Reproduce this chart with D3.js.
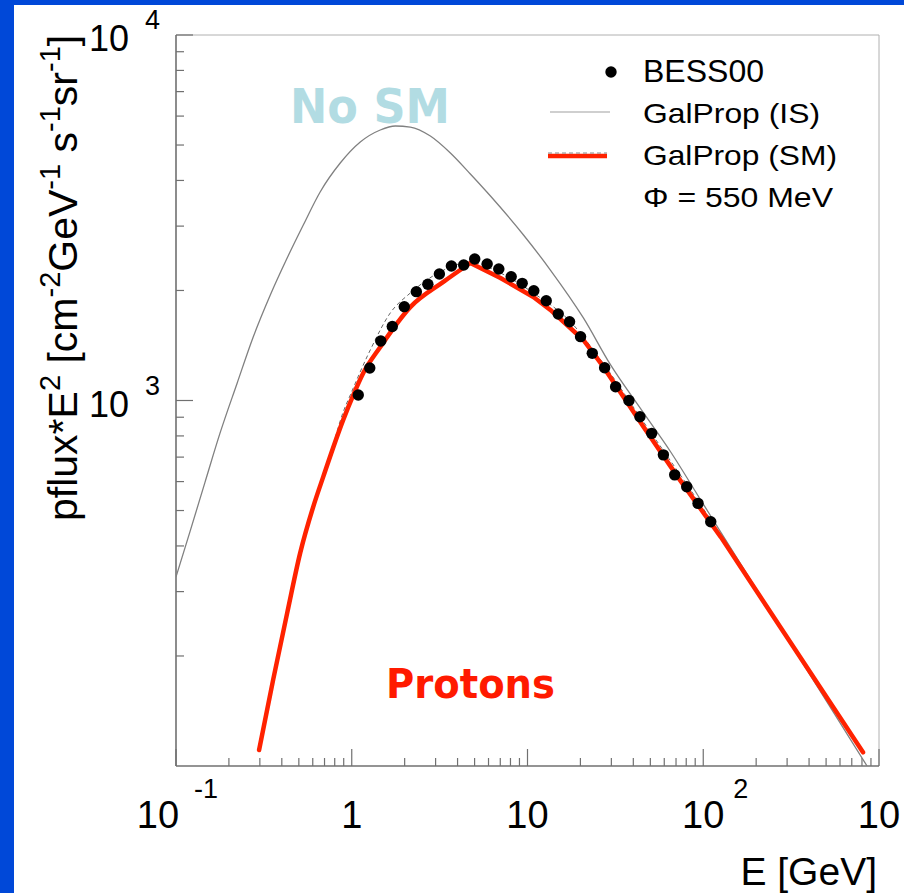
<!DOCTYPE html>
<html><head><meta charset="utf-8">
<script src="https://cdn.jsdelivr.net/npm/d3@7"></script>
<style>html,body{margin:0;padding:0;background:#0048d8;}svg{display:block;}</style>
</head><body>
<script>
// ---- data ----
const xMajor = [0.1, 1, 10, 100, 1000];
const xMajorLabels = [["10","-1"],["1",""],["10",""],["10","2"],["10","3"]];
const yMajor = [1000, 10000];
const yMajorLabels = [["10","3"],["10","4"]];

// GalProp interstellar (no solar modulation)
const isE = [0.1, 0.120, 0.1463, 0.178, 0.223, 0.275, 0.344, 0.429, 0.530, 0.661, 0.860, 1.118, 1.453, 1.770, 2.153, 2.801, 3.641, 4.73, 6.155, 9.49, 13.5, 20.8, 29.7, 44.1, 65.3, 96.8, 131, 855];
const isF = [329, 437, 598, 814, 1117, 1492, 1944, 2454, 3021, 3720, 4464, 5096, 5497, 5637, 5600, 5292, 4755, 4166, 3626, 2837, 2275, 1682, 1251, 948, 723, 534, 423, 100];

// GalProp solar modulated (red): rising branch and falling branch share the peak
const smRiseE = [0.297, 0.357, 0.429, 0.509, 0.603, 0.688, 0.894, 1.020, 1.163, 1.453, 2.153, 3.32, 4.73];
const smRiseF = [110.6, 172, 262, 383, 511, 618, 885, 1035, 1189, 1401, 1801, 2111, 2378];
const smFallE = [4.73, 7.02, 10.8, 13.5, 20.8, 26.1, 35.2, 45.8, 71.6, 126, 811];
const smFallF = [2378, 2163, 1920, 1769, 1464, 1266, 1022, 846, 618, 423, 109];

// thin dashed companion curve
const dashE = [0.297, 0.429, 0.603, 0.754, 0.894, 0.981, 1.275, 1.657, 2.153, 3.19, 4.73, 7.02, 10.8, 17.6, 26.1, 44.1, 96.8, 213, 811];
const dashF = [110.6, 262, 518, 710, 930, 1035, 1375, 1736, 1968, 2249, 2390, 2233, 1968, 1640, 1291, 896, 518, 292, 109];

// BESS00 data
const bessE = [1.089, 1.266, 1.463, 1.701, 1.991, 2.331, 2.710, 3.152, 3.690, 4.335, 5.008, 5.894, 6.865, 8.075, 9.328, 10.86, 12.78, 14.96, 17.35, 20.04, 23.37, 27.46, 31.72, 37.77, 43.63, 50.89, 59.32, 68.80, 80.54, 93.41, 110.3];
const bessF = [1035, 1227, 1455, 1594, 1806, 1985, 2079, 2219, 2333, 2348, 2438, 2363, 2290, 2181, 2092, 1997, 1875, 1725, 1643, 1495, 1346, 1229, 1091, 1000, 903, 813, 710, 626, 581, 523, 466];

const legendLabels = ["BESS00", "GalProp (IS)", "GalProp (SM)", "\u03A6 = 550 MeV"];

// ---- drawing ----
const W = 904, H = 893;
const svg = d3.select("body").append("svg").attr("width", W).attr("height", H);
svg.append("rect").attr("width", W).attr("height", H).attr("fill", "#0048d8");
svg.append("rect").attr("x", 14).attr("y", 5).attr("width", W - 14).attr("height", H - 5).attr("fill", "#fff");

const x = d3.scaleLog().domain([0.1, 1000]).range([176, 879]);
const y = d3.scaleLog().domain([100, 10000]).range([766, 35]);
const font = "'Liberation Sans', Arial, Helvetica, sans-serif";

// frame
svg.append("line").attr("x1", 176).attr("x2", 879).attr("y1", 35).attr("y2", 35).attr("stroke", "#b0b0b0").attr("stroke-width", 1);
svg.append("line").attr("x1", 879).attr("x2", 879).attr("y1", 35).attr("y2", 766).attr("stroke", "#b0b0b0").attr("stroke-width", 1);

// minor ticks
const xMinor = [];
[0.1, 1, 10, 100].forEach(d => { for (let k = 2; k <= 9; k++) xMinor.push(d * k); });
const yMinor = [];
[100, 1000].forEach(d => { for (let k = 2; k <= 9; k++) yMinor.push(d * k); });

const axG = svg.append("g").attr("stroke", "#707070").attr("stroke-width", 1.2);
xMinor.forEach(v => axG.append("line").attr("x1", x(v)).attr("x2", x(v)).attr("y1", 766).attr("y2", 758));
xMajor.forEach(v => axG.append("line").attr("x1", x(v)).attr("x2", x(v)).attr("y1", 766).attr("y2", 749));
yMinor.forEach(v => axG.append("line").attr("y1", y(v)).attr("y2", y(v)).attr("x1", 176).attr("x2", 184));
yMajor.forEach(v => axG.append("line").attr("y1", y(v)).attr("y2", y(v)).attr("x1", 176).attr("x2", 193));
axG.append("line").attr("x1", 176).attr("x2", 879).attr("y1", 766).attr("y2", 766).attr("stroke-width", 1.6);
axG.append("line").attr("x1", 176).attr("x2", 176).attr("y1", 35).attr("y2", 766).attr("stroke-width", 1.6);

// x tick labels
xMajor.forEach((v, i) => {
  const [base, exp] = xMajorLabels[i];
  const neg = exp.startsWith("-");
  const cx = x(v) + (neg ? -18 : 0);
  svg.append("text").attr("x", cx).attr("y", 828).attr("text-anchor", "middle")
    .attr("font-family", font).attr("font-size", 38).attr("fill", "#000").text(base);
  if (exp && cx + 30 < W) {
    svg.append("text").attr("x", cx + (neg ? 36 : 30)).attr("y", 798)
      .attr("font-family", font).attr("font-size", 27).attr("fill", "#000").text(exp);
  }
});
// y tick labels
yMajor.forEach((v, i) => {
  const [base, exp] = yMajorLabels[i];
  svg.append("text").attr("x", 129).attr("y", y(v) + 16).attr("text-anchor", "end")
    .attr("font-family", font).attr("font-size", 36).attr("fill", "#000").text(base);
  svg.append("text").attr("x", 145).attr("y", y(v) - 6)
    .attr("font-family", font).attr("font-size", 27).attr("fill", "#000").text(exp);
});

// axis titles
svg.append("text").attr("x", 877).attr("y", 885).attr("text-anchor", "end")
  .attr("font-family", font).attr("font-size", 39).attr("fill", "#000").text("E [GeV]");

const yt = svg.append("text").attr("transform", "translate(77,521) rotate(-90)")
  .attr("font-family", font).attr("font-size", 41).attr("fill", "#000");
const parts = [["pflux*E", 0], ["2", 1], [" [cm", 0], ["-2", 1], ["GeV", 0], ["-1", 1], [" s", 0], ["-1", 1], ["sr", 0], ["-1", 1], ["]", 0]];
let prevSup = false;
parts.forEach(([t, sup]) => {
  const ts = yt.append("tspan").text(t);
  if (sup) { ts.attr("font-size", 29).attr("dy", prevSup ? 0 : -17); }
  else { ts.attr("dy", prevSup ? 17 : 0); }
  prevSup = !!sup;
});

// clip
svg.append("clipPath").attr("id", "clip").append("rect").attr("x", 176).attr("y", 35).attr("width", 703).attr("height", 731);
const plot = svg.append("g").attr("clip-path", "url(#clip)");

const mk = (es, fs) => es.map((e, i) => [e, fs[i]]);
const lineM = d3.line().x(d => x(d[0])).y(d => y(d[1])).curve(d3.curveMonotoneX);
const lineL = d3.line().x(d => x(d[0])).y(d => y(d[1])).curve(d3.curveLinear);

plot.append("path").datum(mk(isE, isF)).attr("d", lineM)
  .attr("fill", "none").attr("stroke", "#808080").attr("stroke-width", 1.3);
plot.append("path").datum(mk(dashE, dashF)).attr("d", lineM)
  .attr("fill", "none").attr("stroke", "#666").attr("stroke-width", 1).attr("stroke-dasharray", "4,3");

// data points with small error bars
const pts = mk(bessE, bessF);
const eb = plot.append("g").attr("stroke", "#9a9a9a").attr("stroke-width", 1);
pts.forEach(d => {
  eb.append("line").attr("x1", x(d[0] / 1.075)).attr("x2", x(d[0] * 1.075)).attr("y1", y(d[1])).attr("y2", y(d[1]));
  eb.append("line").attr("x1", x(d[0])).attr("x2", x(d[0])).attr("y1", y(d[1] * 1.03)).attr("y2", y(d[1] / 1.03));
});

plot.append("path").datum(mk(smRiseE, smRiseF)).attr("d", lineM)
  .attr("fill", "none").attr("stroke", "#ff2200").attr("stroke-width", 4.5).attr("stroke-linecap", "round");
plot.append("path").datum(mk(smFallE, smFallF)).attr("d", lineL)
  .attr("fill", "none").attr("stroke", "#ff2200").attr("stroke-width", 4.5).attr("stroke-linejoin", "round").attr("stroke-linecap", "round");

plot.append("g").selectAll("circle").data(pts).join("circle")
  .attr("cx", d => x(d[0])).attr("cy", d => y(d[1])).attr("r", 5.7).attr("fill", "#000");

// annotations
svg.append("text").attr("x", 290).attr("y", 123).attr("font-family", "'DejaVu Sans', sans-serif")
  .attr("font-weight", "bold").attr("font-size", 48).attr("fill", "#b2dce3")
  .attr("textLength", 160).attr("lengthAdjust", "spacingAndGlyphs").text("No SM");
svg.append("text").attr("x", 386).attr("y", 698).attr("font-family", "'DejaVu Sans', sans-serif")
  .attr("font-weight", "bold").attr("font-size", 41).attr("fill", "#ff1a00")
  .attr("textLength", 169).attr("lengthAdjust", "spacingAndGlyphs").text("Protons");

// legend
const lg = svg.append("g");
lg.append("circle").attr("cx", 611).attr("cy", 72).attr("r", 5.7).attr("fill", "#000");
lg.append("line").attr("x1", 550).attr("x2", 610).attr("y1", 112).attr("y2", 112).attr("stroke", "#a0a0a0").attr("stroke-width", 1.2);
lg.append("line").attr("x1", 548).attr("x2", 607).attr("y1", 156).attr("y2", 156).attr("stroke", "#ff2200").attr("stroke-width", 4.5);
lg.append("line").attr("x1", 548).attr("x2", 607).attr("y1", 153).attr("y2", 153).attr("stroke", "#888").attr("stroke-width", 1).attr("stroke-dasharray", "4,3");
const lgY = [82, 123, 165, 207];
const lgSize = [31, 28, 28, 28];
const lgLen = [121, 177, 194, 190];
legendLabels.forEach((t, i) => {
  lg.append("text").attr("x", 643).attr("y", lgY[i]).attr("font-family", font)
    .attr("font-size", lgSize[i]).attr("fill", "#000")
    .attr("textLength", lgLen[i]).attr("lengthAdjust", "spacingAndGlyphs").text(t);
});
</script>
</body></html>
